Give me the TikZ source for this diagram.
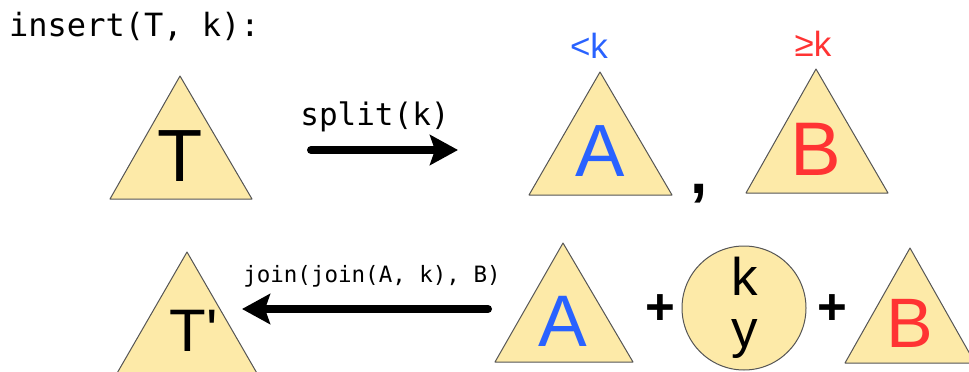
\documentclass[tikz,border=0pt]{standalone}
\usepackage{fontspec}
\setmainfont{Liberation Sans}
\newfontfamily\codefont{DejaVu Sans Mono}
\usetikzlibrary{arrows.meta}
\definecolor{treefill}{RGB}{253,234,168}
\definecolor{treeline}{RGB}{85,85,85}
\definecolor{lowblue}{RGB}{41,98,255}
\definecolor{highred}{RGB}{255,51,51}
\begin{document}
\begin{tikzpicture}[x=1pt,y=-1pt,
  tri/.style={fill=treefill,draw=treeline,line width=1pt,line join=round},
  big/.style={inner sep=0pt,font=\fontsize{#1}{#1}\selectfont},
  code/.style={inner sep=0pt,font=\codefont\fontsize{#1}{#1}\selectfont},
  plussign/.style={inner sep=0pt,font=\bfseries\fontsize{51}{51}\selectfont},
  arr/.style={line width=8pt,line cap=round,-{Stealth[length=28pt,width=30pt,inset=5pt]}}]
\useasboundingbox (0,0) rectangle (969,372);

% title
\node[code=32,anchor=base west] (title) at (9,36) {insert(T, k):};

% top row trees
\path[tri] (180,76) -- (110,199) -- (252,199) -- cycle;
\node[big=74] (T) at (180,156.5) {T};

\path[tri] (600,72) -- (529,195) -- (672,195) -- cycle;
\node[big=74,text=lowblue] (A1) at (600,151.5) {A};
\node[big=35,text=lowblue,anchor=base] (lt) at (589,58) {<k};

\path[tri] (816,69) -- (746,193) -- (888,193) -- cycle;
\node[big=76,text=highred] (B1) at (816,149.5) {B};
\node[big=35,text=highred,anchor=base] (ge) at (813,56) {≥k};

\node[inner sep=0pt,font=\bfseries\fontsize{62}{62}\selectfont,anchor=base] (comma) at (699,193) {,};

% split arrow
\node[code=31,anchor=base] (split) at (375,125) {split(k)};
\coordinate (s1) at (311,150);
\coordinate (s2) at (458,150);
\draw[arr] (s1) -- (s2);

% bottom row
\path[tri] (187,252) -- (116,375) -- (258,375) -- cycle;
\node[big=60] (Tp) at (194,331) {T\textquotesingle};

\node[code=22.5,anchor=base] (join) at (372,282) {join(join(A, k), B)};
\coordinate (j1) at (488,309);
\coordinate (j2) at (242,309);
\draw[arr] (j1) -- (j2);

\path[tri] (563,243) -- (495,362) -- (633,362) -- cycle;
\node[big=73,text=lowblue] (A2) at (563,321) {A};

\node[plussign] (p1) at (660,310) {+};

\node[circle,fill=treefill,draw=treeline,line width=1pt,minimum size=124pt,inner sep=0pt] (kv) at (744,308) {};
\node[big=53,anchor=base] (k) at (745,295) {k};
\node[big=53,anchor=base] (v) at (745,347.5) {y};

\node[plussign] (p2) at (832,310) {+};

\path[tri] (910,248) -- (845,363) -- (975,363) -- cycle;
\node[big=70,text=highred] (B2) at (910,323) {B};
\end{tikzpicture}
\end{document}
